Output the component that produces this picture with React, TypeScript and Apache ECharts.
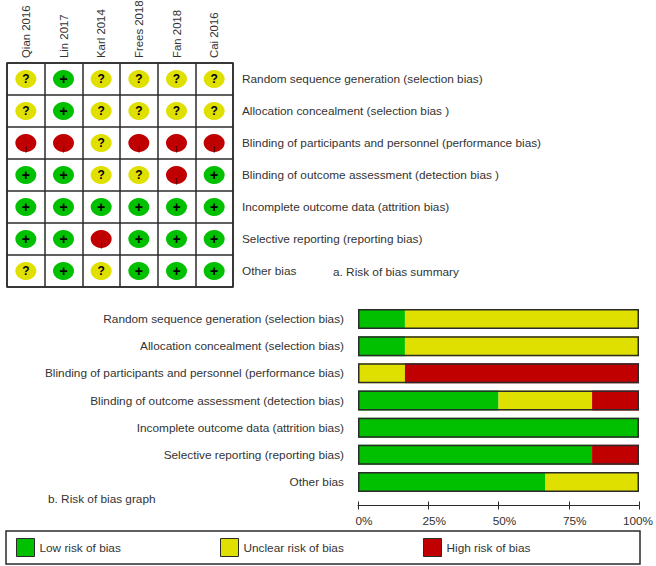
import React, { useEffect, useRef } from "react";
import * as echarts from "echarts";

const studies = ["Qian 2016", "Lin 2017", "Karl 2014", "Frees 2018", "Fan 2018", "Cai 2016"];
const summaryDomains = [
  "Random sequence generation (selection bias)",
  "Allocation concealment (selection bias )",
  "Blinding of participants and personnel (performance bias)",
  "Blinding of outcome assessment (detection bias )",
  "Incomplete outcome data (attrition bias)",
  "Selective reporting (reporting bias)",
  "Other bias",
];
const graphDomains = [
  "Random sequence generation (selection bias)",
  "Allocation concealment (selection bias)",
  "Blinding of participants and personnel (performance bias)",
  "Blinding of outcome assessment (detection bias)",
  "Incomplete outcome data (attrition bias)",
  "Selective reporting (reporting bias)",
  "Other bias",
];
const qian = ["U", "U", "H", "L", "L", "L", "U"];
const lin = ["L", "L", "H", "L", "L", "L", "L"];
const karl = ["U", "U", "U", "U", "L", "H", "U"];
const frees = ["U", "U", "H", "U", "L", "L", "L"];
const fan = ["U", "U", "H", "H", "L", "L", "L"];
const cai = ["U", "U", "H", "L", "L", "L", "L"];
const judgements = [qian, lin, karl, frees, fan, cai];

const lowRisk = [16.7, 16.7, 0, 50, 100, 83.3, 66.7];
const unclearRisk = [83.3, 83.3, 16.7, 33.3, 0, 0, 33.3];
const highRisk = [0, 0, 83.3, 16.7, 0, 16.7, 0];
const outline = [100, 100, 100, 100, 100, 100, 100];
const percentTicks = [0, 25, 50, 75, 100];
const legendNames = ["Low risk of bias", "Unclear risk of bias", "High risk of bias"];

const GREEN = "#00C000";
const YELLOW = "#E0E000";
const RED = "#C00000";
const INK = "#2b2b2b";
const TEXT = "#333333";
const FONT = '"Liberation Sans", Arial, sans-serif';
const FS = 11.8;

const colorOf: Record<string, string> = { L: GREEN, U: YELLOW, H: RED };
const glyphOf: Record<string, string> = { L: "+", U: "?", H: "|" };

function cellData() {
  const out: any[] = [];
  judgements.forEach((col, x) => {
    col.forEach((j, y) => {
      out.push({
        value: [x, y],
        itemStyle: { color: colorOf[j], opacity: 1 },
        label: {
          show: true,
          position: "inside",
          formatter: glyphOf[j],
          color: "#000",
          fontFamily: FONT,
          fontWeight: j === "H" ? "normal" : "bold",
          fontSize: j === "L" ? 14 : j === "U" ? 12 : 7,
          offset: j === "H" ? [0, 5] : [0, 0],
        },
      });
    });
  });
  return out;
}

export default function App() {
  const ref = useRef<HTMLDivElement>(null);
  useEffect(() => {
    const chart = echarts.init(ref.current!, undefined, { renderer: "svg" });
    const lineStyle = { color: INK, width: 1.5 };
    const stacked = (name: string, data: number[], color: string) => ({
      name,
      type: "bar",
      xAxisIndex: 2,
      yAxisIndex: 1,
      stack: "risk",
      barWidth: 20,
      data,
      itemStyle: { color },
      silent: true,
    });
    const legendAt = (name: string, left: number) => ({
      left,
      top: 538,
      padding: 0,
      itemWidth: 18,
      itemHeight: 18,
      selectedMode: false,
      icon: "rect",
      data: [name],
      itemStyle: { borderColor: INK, borderWidth: 1 },
      textStyle: { fontSize: FS, color: TEXT, fontFamily: FONT },
    });
    chart.setOption({
      animation: false,
      backgroundColor: "#fff",
      textStyle: { fontFamily: FONT },
      grid: [
        { left: 7, top: 63, width: 226, height: 224, show: true, borderColor: INK, borderWidth: 1.5, backgroundColor: "transparent", outerBoundsMode: "none" },
        { left: 358, top: 305.5, width: 281, height: 190, outerBoundsMode: "none" },
      ],
      xAxis: [
        {
          type: "category",
          gridIndex: 0,
          position: "top",
          data: studies,
          axisLine: { show: false },
          axisTick: { show: false },
          splitLine: { show: true, lineStyle },
          axisLabel: { rotate: -90, interval: 0, margin: 5, fontSize: 11.4, color: TEXT, fontFamily: FONT },
        },
        {
          type: "value",
          gridIndex: 1,
          position: "bottom",
          offset: 10,
          min: 0,
          max: 100,
          interval: 25,
          splitLine: { show: false },
          axisLine: { show: true, lineStyle: { color: INK, width: 1 } },
          axisTick: { show: true, length: 4, lineStyle: { color: INK, width: 1 } },
          axisLabel: {
            margin: 9,
            fontSize: FS,
            color: TEXT,
            fontFamily: FONT,
            showMinLabel: true,
            showMaxLabel: true,
            hideOverlap: false,
            formatter: (v: number) => (v === percentTicks[4] ? `{b|${v}%}` : `{a|${v}%}`),
            rich: {
              a: { padding: [0, 0, 0, 12], fontSize: FS, color: TEXT, fontFamily: FONT },
              b: { padding: [0, 2, 0, 0], fontSize: FS, color: TEXT, fontFamily: FONT },
            },
          },
        },
        {
          type: "value",
          gridIndex: 1,
          position: "bottom",
          offset: 10,
          min: 0,
          max: 100,
          interval: 25,
          splitLine: { show: false },
          axisLine: { show: false },
          axisTick: { show: true, inside: true, length: 4, lineStyle: { color: INK, width: 1 } },
          axisLabel: { show: false },
        },
      ],
      yAxis: [
        {
          type: "category",
          gridIndex: 0,
          position: "right",
          inverse: true,
          data: summaryDomains,
          axisLine: { show: false },
          axisTick: { show: false },
          splitLine: { show: true, lineStyle },
          axisLabel: { margin: 9, interval: 0, fontSize: FS, color: TEXT, fontFamily: FONT },
        },
        {
          type: "category",
          gridIndex: 1,
          position: "left",
          inverse: true,
          data: graphDomains,
          axisLine: { show: false },
          axisTick: { show: false },
          splitLine: { show: false },
          axisLabel: { margin: 14, interval: 0, fontSize: FS, color: TEXT, fontFamily: FONT },
        },
      ],
      legend: [legendAt(legendNames[0], 16), legendAt(legendNames[1], 220), legendAt(legendNames[2], 423)],
      graphic: [
        { type: "text", x: 333, y: 266, style: { text: "a. Risk of bias summary", fontSize: FS, fontFamily: FONT, fill: TEXT } },
        { type: "text", x: 48, y: 493, style: { text: "b. Risk of bias graph", fontSize: FS, fontFamily: FONT, fill: TEXT } },
        { type: "rect", shape: { x: 6, y: 531, width: 634, height: 33 }, style: { fill: "none", stroke: INK, lineWidth: 1.5 } },
      ],
      series: [
        {
          type: "scatter",
          xAxisIndex: 0,
          yAxisIndex: 0,
          symbol: "circle",
          symbolSize: [21, 18],
          data: cellData(),
          silent: true,
        },
        stacked(legendNames[0], lowRisk, GREEN),
        stacked(legendNames[1], unclearRisk, YELLOW),
        stacked(legendNames[2], highRisk, RED),
        {
          name: "outline",
          type: "bar",
          xAxisIndex: 2,
          yAxisIndex: 1,
          barWidth: 20,
          barGap: "-100%",
          z: 5,
          data: outline,
          itemStyle: { color: "transparent", borderColor: INK, borderWidth: 1.5 },
          silent: true,
        },
      ],
    });
    return () => chart.dispose();
  }, []);
  return <div ref={ref} style={{ position: "fixed", left: 0, top: 0, width: 656, height: 566 }} />;
}
